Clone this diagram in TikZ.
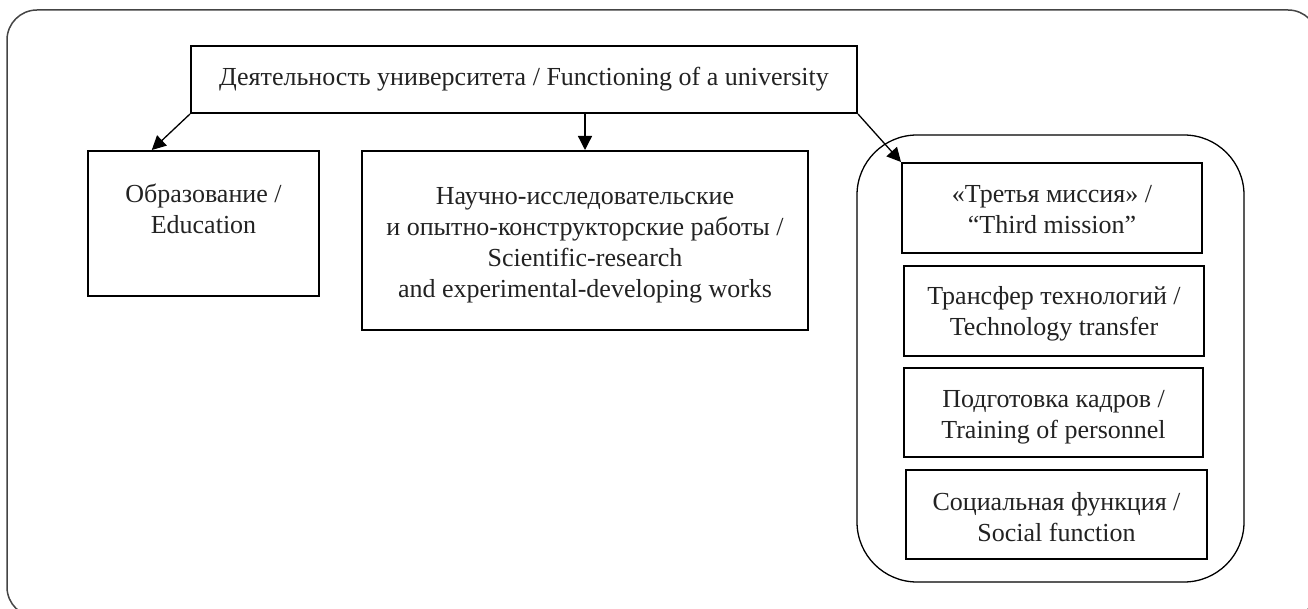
\documentclass[tikz,border=0pt]{standalone}
\usepackage{fontspec}
\setmainfont{Liberation Serif}
\usetikzlibrary{arrows.meta,calc}
\definecolor{txt}{HTML}{222222}
\definecolor{frame}{HTML}{444444}
\tikzset{
  box/.style={draw=black, line width=2pt, inner sep=0pt},
  boxtext/.style={align=center, text=txt, inner sep=0pt, font=\fontsize{26}{31}\selectfont},
  arr/.style={line width=1.3pt, -{Triangle[length=14pt,width=14pt]}},
}
\begin{document}
\begin{tikzpicture}[x=1pt,y=-1pt]
\useasboundingbox (0,0) rectangle (1308,609);
\draw[frame, line width=1.5pt, rounded corners=30pt] (7,10) rectangle (1318,617);
\node[box, minimum width=666pt, minimum height=67pt] (top) at (524,79.5) {};
\node[boxtext] at (top.center) {Деятельность университета / Functioning of a university};
\node[box, minimum width=231pt, minimum height=145pt] (edu) at (203.5,223.5) {};
\node[boxtext] at ([yshift=15pt]edu.center) {Образование /\\Education};
\node[box, minimum width=446pt, minimum height=179pt] (mid) at (585,240.5) {};
\node[boxtext] at ([yshift=-5pt]mid.center) {Научно-исследовательские\\и опытно-конструкторские работы /\\Scientific-research\\and experimental-developing works};
\draw[line width=1.3pt, rounded corners=60pt] (857,135) rectangle (1244,582);
\node[box, minimum width=300pt, minimum height=90pt] (third) at (1052,208) {};
\node[boxtext] at ([yshift=-2pt]third.center) {«Третья миссия» /\\“Third mission”};
\node[box, minimum width=300pt, minimum height=90pt] (tech) at (1054,311) {};
\node[boxtext] at ([yshift=-3pt]tech.center) {Трансфер технологий /\\Technology transfer};
\node[box, minimum width=299pt, minimum height=89pt] (train) at (1053.5,412.5) {};
\node[boxtext] at ([yshift=-5pt]train.center) {Подготовка кадров /\\Training of personnel};
\node[box, minimum width=301pt, minimum height=89pt] (soc) at (1056.5,514.5) {};
\node[boxtext] at ([yshift=-3pt]soc.center) {Социальная функция /\\Social function};
\coordinate (eduin) at ($(edu.north west)!0.278!(edu.north east)$);
\draw[arr] (top.south west) -- (eduin);
\draw[arr] (mid.north |- top.south) -- (mid.north);
\draw[arr] (top.south east) -- (third.north west);
\end{tikzpicture}
\end{document}
